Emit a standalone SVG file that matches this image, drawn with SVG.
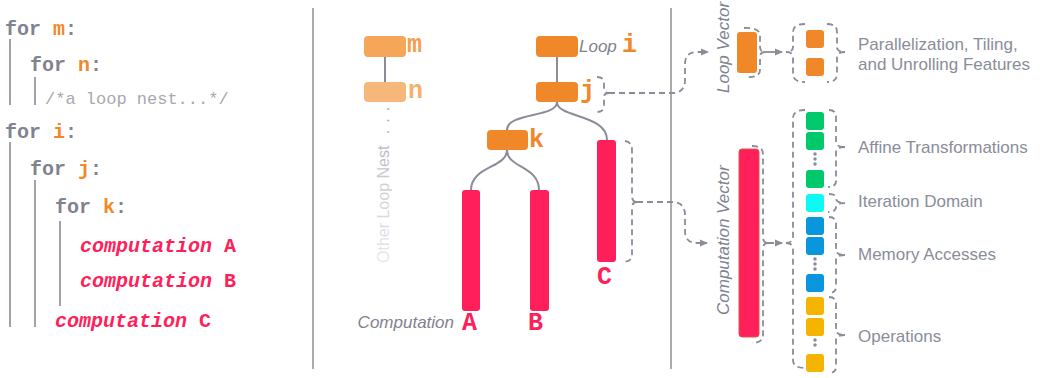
<svg xmlns="http://www.w3.org/2000/svg" width="1040" height="378" viewBox="0 0 1040 378">
<style>
.code{font-family:"Liberation Mono","Courier New",monospace;font-weight:bold;font-size:20px;white-space:pre}
.kw{fill:#80838f}
.var{fill:#f0882a}
.comp{fill:#fe1f5b;font-style:italic}
.compn{fill:#fe1f5b}
.cmt{font-family:"Liberation Mono",monospace;font-size:17px;fill:#a8a8ad;white-space:pre}
.bar{stroke:#a0a3ad;stroke-width:2;fill:none}
.div{stroke:#acacac;stroke-width:2}
.lbl{font-family:"Liberation Mono","Courier New",monospace;font-weight:bold;font-size:25px}
.it{font-family:"Liberation Sans",Arial,sans-serif;font-style:italic;font-size:17px;fill:#7f828f}
.txt{font-family:"Liberation Sans",Arial,sans-serif;font-size:17px;fill:#8a8d99}
.tree{stroke:#8a8d99;stroke-width:2;fill:none}
.dash{stroke:#8a8d99;stroke-width:1.8;fill:none;stroke-dasharray:6 4}
.loop{fill:#f0882a}
.cmpr{fill:#fe1f5b}
.dots{stroke:#8a8d99;stroke-width:3.5;stroke-linecap:round;stroke-dasharray:0 5;fill:none}
</style>
<defs>
<marker id="ah" viewBox="0 0 8 8" refX="7" refY="4" markerWidth="8" markerHeight="8" markerUnits="userSpaceOnUse" orient="auto">
<path d="M0,0.5 L8,4 L0,7.5 z" fill="#8a8d99"/>
</marker>
<linearGradient id="fade" x1="0" y1="0" x2="1" y2="0">
<stop offset="0" stop-color="#e8e8ea"/>
<stop offset="0.5" stop-color="#cdced4"/>
<stop offset="1" stop-color="#979aa5"/>
</linearGradient>
</defs>

<!-- code panel -->
<g id="code">
<line class="bar" x1="10" y1="39" x2="10" y2="105"/>
<line class="bar" x1="35" y1="77" x2="35" y2="105"/>
<line class="bar" x1="10" y1="142" x2="10" y2="327"/>
<line class="bar" x1="35" y1="180" x2="35" y2="327"/>
<line class="bar" x1="60" y1="221" x2="60" y2="306"/>
<text class="code" x="5" y="35"><tspan class="kw">for </tspan><tspan class="var">m</tspan><tspan class="kw">:</tspan></text>
<text class="code" x="30" y="71"><tspan class="kw">for </tspan><tspan class="var">n</tspan><tspan class="kw">:</tspan></text>
<text class="cmt" x="45" y="104">/*a loop nest...*/</text>
<text class="code" x="5" y="138"><tspan class="kw">for </tspan><tspan class="var">i</tspan><tspan class="kw">:</tspan></text>
<text class="code" x="30" y="175"><tspan class="kw">for </tspan><tspan class="var">j</tspan><tspan class="kw">:</tspan></text>
<text class="code" x="55" y="213"><tspan class="kw">for </tspan><tspan class="var">k</tspan><tspan class="kw">:</tspan></text>
<text class="code" x="80" y="252"><tspan class="comp">computation </tspan><tspan class="compn">A</tspan></text>
<text class="code" x="80" y="287"><tspan class="comp">computation </tspan><tspan class="compn">B</tspan></text>
<text class="code" x="55" y="327"><tspan class="comp">computation </tspan><tspan class="compn">C</tspan></text>
</g>

<g id="dividers">
<line class="div" x1="313" y1="8" x2="313" y2="369"/>
<line class="div" x1="671" y1="8" x2="671" y2="369"/>
</g>

<!-- connectors -->
<g id="connectors">
<line class="tree" x1="385" y1="57" x2="385" y2="82"/>
<line class="tree" x1="557" y1="57" x2="557" y2="82"/>
<path class="tree" d="M557,102 C557,118 507,112 507,130"/>
<path class="tree" d="M557,102 C557,118 607,114 607,140"/>
<path class="tree" d="M507,150 C507,168 471,166 471,190"/>
<path class="tree" d="M507,150 C507,168 539,166 539,190"/>
<!-- j bracket -->
<path class="dash" d="M597,77 Q604,77 604,83 L604,89 Q604,93 609,93 M609,93 Q604,93 604,97 L604,106 Q604,112 597,112"/>
<!-- C bracket -->
<path class="dash" d="M625,141 Q632,142 632,150 L632,196 Q632,202 637,202 M637,202 Q632,202 632,208 L632,255 Q632,262 622,262"/>
<path class="dash" d="M609,93 L672,93 Q685,93 685,80 L685,64 Q685,52 697,52 L708,52" marker-end="url(#ah)"/>
<path class="dash" d="M637,202 L672,202 Q685,202 685,215 L685,231 Q685,243 697,243 L707,243" marker-end="url(#ah)"/>
<!-- loop vector bracket + arrow -->
<path class="dash" d="M744,28 Q760,27 760,36 L760,47 Q760,52 765,52 M765,52 Q760,52 760,57 L760,70 Q760,78 745,77"/>
<line x1="765" y1="52" x2="782" y2="52" stroke="#8a8d99" stroke-width="1.8" marker-end="url(#ah)"/>
<!-- comp vector bracket + arrow -->
<path class="dash" d="M752,146 Q763,146 763,154 L763,237 Q763,243 768,243 M768,243 Q763,243 763,249 L763,335 Q763,343 752,343"/>
<path class="dash" d="M768,243 L782,243" marker-end="url(#ah)"/>
<!-- feature brackets left -->
<path class="dash" d="M805,24 Q793,24 793,32 L793,47 Q793,52 786,52 M786,52 Q793,52 793,57 L793,74 Q793,82 805,82"/>
<path class="dash" d="M805,110 Q793,110 793,118 L793,237 Q793,243 786,243 M786,243 Q793,243 793,249 L793,360 Q793,368 805,368"/>
<!-- feature brackets right -->
<path class="dash" d="M827,24 Q837,24 837,32 L837,47 Q837,52 845,52 M845,52 Q837,52 837,57 L837,74 Q837,82 827,82"/>
<path class="dash" d="M829,110 Q836,110 836,117 L836,142 Q836,147 845,147 M845,147 Q836,147 836,152 L836,181 Q836,187 828,187"/>
<path class="dash" d="M829,194 Q836,194 836,198 Q836,203 845,203 M845,203 Q836,203 836,207 Q836,212 828,212"/>
<path class="dash" d="M829,217 Q836,217 836,224 L836,250 Q836,255 845,255 M845,255 Q836,255 836,260 L836,287 Q836,293 828,293"/>
<path class="dash" d="M829,297 Q836,297 836,304 L836,330 Q836,335 845,335 M845,335 Q836,335 836,340 L836,367 Q836,373 828,373"/>
</g>

<!-- other loop nest -->
<g id="node-m">
<rect x="364" y="36" width="42" height="21" rx="4" fill="#f5a659"/>
<text class="lbl" x="407" y="52" fill="#f2a04f">m</text>
</g>
<g id="node-n">
<rect x="364" y="82" width="42" height="20" rx="4" fill="#f7b67a"/>
<text class="lbl" x="408" y="98" fill="#f5b06f">n</text>
</g>
<g id="other-loop-nest">
<text transform="translate(389,263) rotate(-90)" font-family="Liberation Sans, Arial, sans-serif" font-size="16" fill="url(#fade)">Other Loop Nest<tspan letter-spacing="7"> ...</tspan></text>
</g>

<!-- loop tree -->
<g id="node-i">
<rect x="536" y="36" width="42" height="21" rx="4" class="loop"/>
<text class="it" x="579" y="52">Loop</text>
<text class="lbl" x="622" y="52" fill="#f0882a">i</text>
</g>
<g id="node-j">
<rect x="536" y="82" width="42" height="20" rx="4" class="loop"/>
<text class="lbl" x="580" y="98" fill="#f0882a">j</text>
</g>
<g id="node-k">
<rect x="487" y="130" width="41" height="20" rx="4" class="loop"/>
<text class="lbl" x="529" y="147" fill="#f0882a">k</text>
</g>
<g id="comp-A">
<rect x="462" y="190" width="18" height="121" rx="3" class="cmpr"/>
<text class="it" x="454" y="328" text-anchor="end">Computation</text>
<text class="lbl" x="462" y="330" fill="#fe1f5b">A</text>
</g>
<g id="comp-B">
<rect x="530" y="190" width="19" height="121" rx="3" class="cmpr"/>
<text class="lbl" x="528" y="330" fill="#fe1f5b">B</text>
</g>
<g id="comp-C">
<rect x="597" y="140" width="19" height="122" rx="3" class="cmpr"/>
<text class="lbl" x="597" y="284" fill="#fe1f5b">C</text>
</g>

<!-- vectors -->
<g id="loop-vector">
<text class="it" transform="translate(729,93) rotate(-90)">Loop Vector</text>
<rect x="737" y="32" width="20" height="41" rx="3" class="loop"/>
</g>
<g id="computation-vector">
<text class="it" transform="translate(729,315) rotate(-90)">Computation Vector</text>
<rect x="739" y="149" width="20" height="188" rx="3" fill="#fe1f5b" stroke="#e4524a" stroke-width="1"/>
</g>

<!-- features -->
<g id="loop-features">
<rect x="806" y="30" width="18" height="18" rx="3" class="loop"/>
<rect x="806" y="58" width="18" height="18" rx="3" class="loop"/>
<text class="txt" x="858" y="50">Parallelization, Tiling,</text>
<text class="txt" x="858" y="70">and Unrolling Features</text>
</g>
<g id="affine">
<rect x="806" y="112" width="18" height="18" rx="3" fill="#00c96b"/>
<rect x="806" y="132" width="18" height="18" rx="3" fill="#00c96b"/>
<line class="dots" x1="815" y1="154" x2="815" y2="166"/>
<rect x="806" y="170" width="18" height="18" rx="3" fill="#00c96b"/>
<text class="txt" x="858" y="153">Affine Transformations</text>
</g>
<g id="iteration-domain">
<rect x="806" y="194" width="18" height="18" rx="3" fill="#0ff8f4"/>
<text class="txt" x="858" y="207">Iteration Domain</text>
</g>
<g id="memory">
<rect x="806" y="217" width="18" height="18" rx="3" fill="#0a96dc"/>
<rect x="806" y="237" width="18" height="18" rx="3" fill="#0a96dc"/>
<line class="dots" x1="815" y1="259" x2="815" y2="270"/>
<rect x="806" y="274" width="18" height="18" rx="3" fill="#0a96dc"/>
<text class="txt" x="858" y="260">Memory Accesses</text>
</g>
<g id="operations">
<rect x="806" y="297" width="18" height="18" rx="3" fill="#f4b400"/>
<rect x="806" y="318" width="18" height="18" rx="3" fill="#f4b400"/>
<line class="dots" x1="815" y1="340" x2="815" y2="350"/>
<rect x="806" y="354" width="18" height="18" rx="3" fill="#f4b400"/>
<text class="txt" x="858" y="342">Operations</text>
</g>
</svg>
